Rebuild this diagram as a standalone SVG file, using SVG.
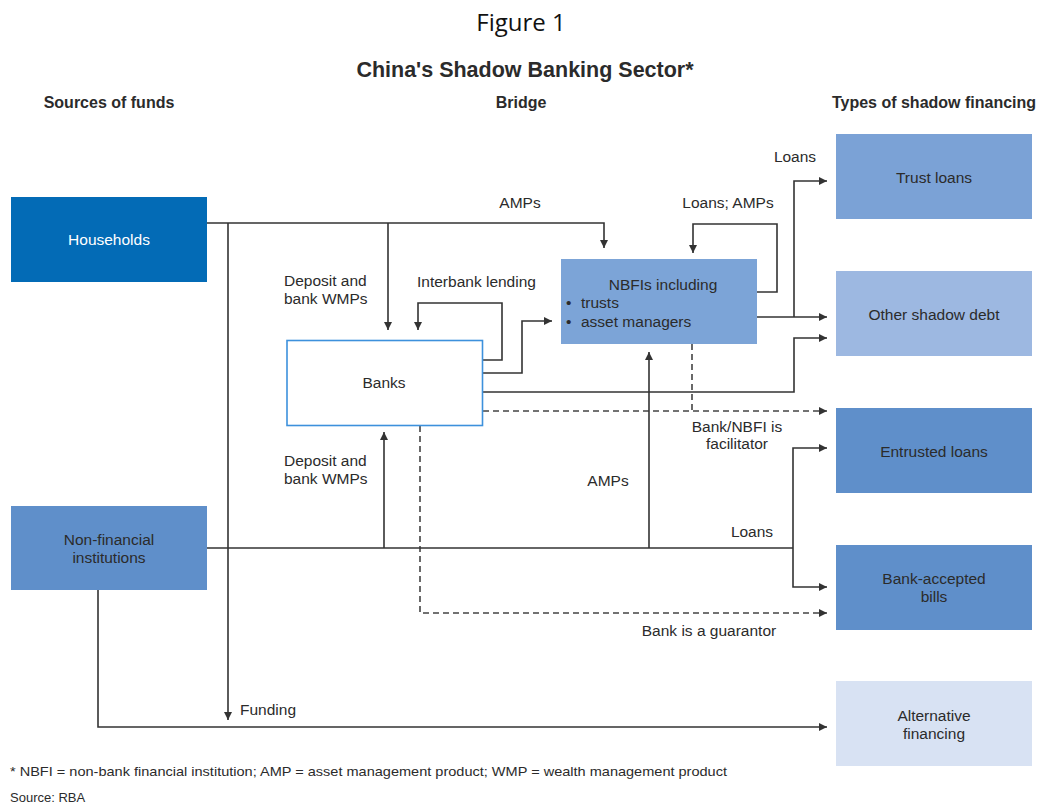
<svg xmlns="http://www.w3.org/2000/svg" width="1042" height="808" viewBox="0 0 1042 808">
<defs>
<marker id="ah" viewBox="0 0 10 10" refX="10" refY="5" markerWidth="9" markerHeight="8" markerUnits="userSpaceOnUse" orient="auto"><path d="M0,0 L10,5 L0,10 z" fill="#333"/></marker>
<style>
text{font-family:"Liberation Sans",Arial,sans-serif;fill:#2b2b2b;}
.lbl{font-size:15.5px;}
.box{font-size:15.5px;}
.hdr{font-size:16px;font-weight:bold;}
.mid{text-anchor:middle;}
.ln{fill:none;stroke:#333;stroke-width:1.6;}
.dash{fill:none;stroke:#444;stroke-width:1.6;stroke-dasharray:6 4;}
.arr{marker-end:url(#ah);}
</style>
</defs>
<rect width="1042" height="808" fill="#fff"/>

<g id="titles">
<text x="521" y="31" class="mid" style="font-family:'Open Sans','Liberation Sans',sans-serif;font-size:24px;fill:#111">Figure 1</text>
<text x="525" y="77" class="mid" style="font-size:21.5px;font-weight:bold;">China's Shadow Banking Sector*</text>
<text x="109" y="108" class="hdr mid">Sources of funds</text>
<text x="521" y="108" class="hdr mid">Bridge</text>
<text x="934" y="108" class="hdr mid">Types of shadow financing</text>
</g>

<g id="connectors">
<path class="ln arr" d="M207,223 H604 V248"/>
<path class="ln arr" d="M228,223 V720"/>
<path class="ln arr" d="M388,223 V330"/>
<path class="ln arr" d="M483,360 H502 V303 H418 V330"/>
<path class="ln arr" d="M483,373 H522 V321 H552"/>
<path class="ln arr" d="M483,392 H794 V338 H827"/>
<path class="ln arr" d="M757,292 H777 V224 H693 V253"/>
<path class="ln arr" d="M757,317 H827"/>
<path class="ln arr" d="M794,317 V181 H827"/>
<path class="dash arr" d="M483,411 H827"/>
<path class="dash" d="M692,344 V411"/>
<path class="dash arr" d="M420,426 V613 H827"/>
<path class="ln" d="M207,548 H793"/>
<path class="ln arr" d="M793,548 V448 H827"/>
<path class="ln arr" d="M793,548 V587 H827"/>
<path class="ln arr" d="M384,548 V432"/>
<path class="ln arr" d="M649,548 V352"/>
<path class="ln arr" d="M98,590 V727 H827"/>
</g>

<g id="labels">
<text x="520" y="208" class="lbl mid">AMPs</text>
<text x="795" y="162" class="lbl mid">Loans</text>
<text x="728" y="208" class="lbl mid">Loans; AMPs</text>
<text x="284" y="286" class="lbl">Deposit and</text>
<text x="284" y="304" class="lbl">bank WMPs</text>
<text x="417" y="287" class="lbl">Interbank lending</text>
<text x="284" y="466" class="lbl">Deposit and</text>
<text x="284" y="484" class="lbl">bank WMPs</text>
<text x="608" y="486" class="lbl mid">AMPs</text>
<text x="737" y="432" class="lbl mid">Bank/NBFI is</text>
<text x="737" y="449" class="lbl mid">facilitator</text>
<text x="752" y="537" class="lbl mid">Loans</text>
<text x="709" y="636" class="lbl mid">Bank is a guarantor</text>
<text x="240" y="715" class="lbl">Funding</text>
</g>

<g id="households">
<rect x="11" y="197" width="196" height="85" fill="#036bb6"/>
<text x="109" y="245" class="box mid" style="fill:#fff">Households</text>
</g>
<g id="nonfinancial">
<rect x="11" y="506" width="196" height="84" fill="#5f8fca"/>
<text x="109" y="545" class="box mid">Non-financial</text>
<text x="109" y="563" class="box mid">institutions</text>
</g>
<g id="banks">
<rect x="287" y="340.5" width="195.5" height="85" fill="#fff" stroke="#3d91dc" stroke-width="1.6"/>
<text x="384" y="388" class="box mid">Banks</text>
</g>
<g id="nbfis">
<rect x="561" y="259" width="196" height="85" fill="#7ca4d7"/>
<text x="663" y="290" class="box mid">NBFIs including</text>
<text x="566" y="308" class="box">•</text>
<text x="581" y="308" class="box">trusts</text>
<text x="566" y="327" class="box">•</text>
<text x="581" y="327" class="box">asset managers</text>
</g>
<g id="trustloans">
<rect x="836" y="134" width="196" height="85" fill="#7ba2d6"/>
<text x="934" y="183" class="box mid">Trust loans</text>
</g>
<g id="othershadow">
<rect x="836" y="271" width="196" height="85" fill="#9db8e1"/>
<text x="934" y="320" class="box mid">Other shadow debt</text>
</g>
<g id="entrusted">
<rect x="836" y="408" width="196" height="85" fill="#5f8fca"/>
<text x="934" y="457" class="box mid">Entrusted loans</text>
</g>
<g id="bankaccepted">
<rect x="836" y="545" width="196" height="85" fill="#5f8fca"/>
<text x="934" y="584" class="box mid">Bank-accepted</text>
<text x="934" y="602" class="box mid">bills</text>
</g>
<g id="alternative">
<rect x="836" y="681" width="196" height="85" fill="#d8e2f3"/>
<text x="934" y="721" class="box mid">Alternative</text>
<text x="934" y="739" class="box mid">financing</text>
</g>

<g id="footnotes">
<text x="10" y="776" style="font-size:13px" textLength="717" lengthAdjust="spacingAndGlyphs">* NBFI = non-bank financial institution; AMP = asset management product; WMP = wealth management product</text>
<text x="10" y="802" style="font-size:13px">Source: RBA</text>
</g>
</svg>
